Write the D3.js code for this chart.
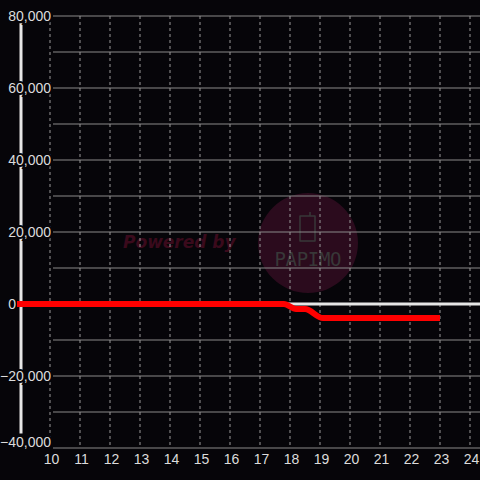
<!DOCTYPE html>
<html>
<head>
<meta charset="utf-8">
<script src="https://cdn.jsdelivr.net/npm/d3@7"></script>
<style>
  html, body { margin: 0; padding: 0; background: #060509; }
  svg { display: block; font-family: "Liberation Sans", Arial, sans-serif; }
</style>
</head>
<body>
<svg id="chart" width="480" height="480"></svg>
<script>
// data
const hours = [8.9, 17.8, 18.2, 18.5, 19.1, 23];
const values = [0, 0, -1400, -1400, -3900, -3900];
const xTicks = [10, 11, 12, 13, 14, 15, 16, 17, 18, 19, 20, 21, 22, 23, 24];
const yTicks = [-40000, -20000, 0, 20000, 40000, 60000, 80000];
const yGrid = [-40000, -30000, -20000, -10000, 0, 10000, 20000, 30000, 40000, 50000, 60000, 70000, 80000];

const svg = d3.select('#chart');
const W = 480, H = 480;
const bg = '#060509';

const xScale = d3.scaleLinear().domain([9, 25]).range([20, 500]);
const yScale = d3.scaleLinear().domain([-40000, 80000]).range([448, 16]);

svg.append('rect').attr('width', W).attr('height', H).attr('fill', bg);

// watermark
const wm = svg.append('g');
wm.append('circle').attr('cx', 308).attr('cy', 243).attr('r', 50).attr('fill', '#2b0b1d');
wm.append('text').attr('x', 123).attr('y', 248)
  .attr('font-size', 17).attr('font-weight', 'bold').attr('font-style', 'italic')
  .attr('font-family', 'DejaVu Sans, sans-serif')
  .attr('fill', '#3a0a1c').text('Powered by');
wm.append('path')
  .attr('d', 'M301,216 h9 v-4 M310,216 h5 v25 h-15 v-25 z')
  .attr('fill', 'none').attr('stroke', '#383838').attr('stroke-width', 1.5)
  .attr('stroke-linejoin', 'round');
wm.append('text').attr('x', 308).attr('y', 266).attr('text-anchor', 'middle')
  .attr('font-size', 19).attr('font-family', 'DejaVu Sans Mono, monospace')
  .attr('textLength', 67).attr('fill', '#383838').text('PAPIMO');

// horizontal grid
svg.append('g').selectAll('line').data(yGrid).join('line')
  .attr('x1', 53).attr('x2', W)
  .attr('y1', d => yScale(d)).attr('y2', d => yScale(d))
  .attr('stroke', '#8a8a8a').attr('stroke-width', 1);

// vertical dashed grid
svg.append('g').selectAll('line').data(xTicks).join('line')
  .attr('x1', d => xScale(d)).attr('x2', d => xScale(d))
  .attr('y1', yScale(80000)).attr('y2', yScale(-40000))
  .attr('stroke', '#9a9a9a').attr('stroke-width', 1).attr('stroke-dasharray', '3,3');

// y axis bar
svg.append('line').attr('x1', 21).attr('x2', 21)
  .attr('y1', yScale(78000)).attr('y2', yScale(-36000))
  .attr('stroke', '#e6e6e6').attr('stroke-width', 3);

// zero line
svg.append('line').attr('x1', 20).attr('x2', W)
  .attr('y1', yScale(0)).attr('y2', yScale(0))
  .attr('stroke', '#e6e6e6').attr('stroke-width', 3);

// y labels
const yAxis = d3.axisLeft(yScale).tickValues(yTicks).tickSize(0).tickPadding(0)
  .tickFormat(d3.format(','));
const gy = svg.append('g').attr('transform', 'translate(51,0)').call(yAxis);
gy.select('.domain').remove();
gy.selectAll('text').attr('font-size', 14).attr('fill', '#dcdcdc')
  .attr('font-family', 'Liberation Sans, Arial, sans-serif')
  .attr('stroke', bg).attr('stroke-width', 4).attr('paint-order', 'stroke')
  .attr('x', d => d === 0 ? -35 : 0)
  .attr('dy', d => d === -40000 ? '-0.1em' : '0.35em');

// x labels
const xAxis = d3.axisBottom(xScale).tickValues(xTicks).tickSize(0).tickPadding(0);
const gx = svg.append('g').attr('transform', 'translate(1,454)').call(xAxis);
gx.select('.domain').remove();
gx.selectAll('text').attr('font-size', 14).attr('fill', '#dcdcdc')
  .attr('font-family', 'Liberation Sans, Arial, sans-serif');

// red series
const data = hours.map((h, i) => ({ h: h, v: values[i] }));
const line = d3.line().x(d => xScale(d.h)).y(d => yScale(d.v)).curve(d3.curveMonotoneX);
svg.append('path').datum(data)
  .attr('fill', 'none').attr('stroke', '#ff0000').attr('stroke-width', 6)
  .attr('d', line);
</script>
</body>
</html>
